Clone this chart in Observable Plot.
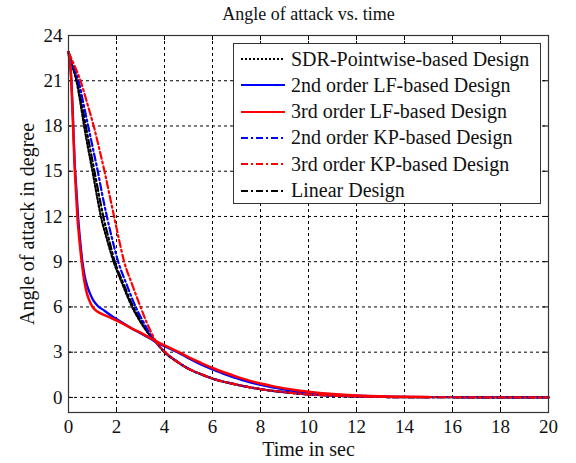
<!DOCTYPE html>
<html>
<head>
<meta charset="utf-8">
<script src="https://cdn.jsdelivr.net/npm/d3@7"></script>
<script src="https://cdn.jsdelivr.net/npm/@observablehq/plot@0.6"></script>
<style>
  html, body { margin: 0; padding: 0; background: #fff; }
  #wrap { position: relative; width: 576px; height: 463px; font-family: "Liberation Serif", "Times New Roman", serif; }
  #wrap svg text { font-family: "Liberation Serif", "Times New Roman", serif; }
  #legend { position: absolute; left: 233px; top: 43px; width: 308px; height: 161px; border: 1px solid #333; background: #fff; box-sizing: border-box; }
  .row { position: absolute; left: 0; height: 26px; display: flex; align-items: center; font-size: 20px; color: #111; white-space: nowrap; font-family: "Liberation Serif", "Times New Roman", serif; }
  .row svg { margin-left: 7px; margin-right: 6px; }
</style>
</head>
<body>
<div id="wrap"></div>
<script>
const title = "Angle of attack vs. time";
const xLabel = "Time in sec";
const yLabel = "Angle of attack in degree";
const xTicks = [0, 2, 4, 6, 8, 10, 12, 14, 16, 18, 20];
const yTicks = [0, 3, 6, 9, 12, 15, 18, 21, 24];

const seriesNames = [
  "SDR-Pointwise-based Design",
  "2nd order LF-based Design",
  "3rd order LF-based Design",
  "2nd order KP-based Design",
  "3rd order KP-based Design",
  "Linear Design"
];

const tailT = [4.5, 5, 5.5, 6, 7, 8, 9, 10, 11, 12, 13, 14, 16, 18, 20];
const tailY = [2.4, 1.9, 1.55, 1.25, 0.85, 0.55, 0.35, 0.2, 0.12, 0.06, 0.03, 0.02, 0.01, 0, 0];

const sdrT = [0, 0.15, 0.33, 0.5, 0.65, 0.82, 1.0, 1.17, 1.35, 1.6, 1.88, 2.25, 2.65, 3.0, 3.35, 3.65, 4.0, ...tailT];
const sdrY = [22.9, 22, 21, 19.5, 18, 16.5, 15, 13.5, 12, 10.5, 9, 7.5, 6, 5, 4.2, 3.65, 3.0, ...tailY];

const lf2T = [0, 0.05, 0.1, 0.15, 0.2, 0.26, 0.32, 0.4, 0.48, 0.58, 0.68, 0.8, 0.92, 1.05, 1.2, 1.5, 1.8, 2.2, 2.6, 3.0, 3.4, 3.8, 4.2, 4.6, 5, 5.5, 6, 6.5, 7, 7.5, 8, 8.5, 9, 9.5, 10, 11, 12, 13, 14, 15];
const lf2Y = [22.9, 22.3, 21.5, 20, 18, 15.5, 14, 12, 10.5, 9, 8, 7.3, 6.8, 6.4, 6.1, 5.75, 5.4, 5.0, 4.6, 4.25, 3.9, 3.55, 3.25, 2.95, 2.6, 2.2, 1.85, 1.55, 1.27, 1.03, 0.83, 0.66, 0.52, 0.41, 0.32, 0.19, 0.11, 0.06, 0.03, 0.02];

const lf3T = [0, 0.05, 0.1, 0.14, 0.19, 0.25, 0.3, 0.37, 0.45, 0.55, 0.65, 0.75, 0.85, 1.0, 1.2, 1.5, 1.8, 2.2, 2.6, 3.0, 3.4, 3.8, 4.2, 4.6, 5.0, 5.5, 6, 6.5, 7, 7.5, 8, 8.5, 9, 9.5, 10, 11, 12, 13, 14, 15];
const lf3Y = [22.9, 22.3, 21.5, 20, 18, 15.5, 14, 12, 10.5, 9, 7.8, 7, 6.5, 6.0, 5.7, 5.45, 5.25, 4.95, 4.6, 4.3, 3.95, 3.6, 3.3, 3.0, 2.67, 2.3, 1.95, 1.65, 1.38, 1.13, 0.92, 0.75, 0.6, 0.48, 0.38, 0.23, 0.13, 0.07, 0.04, 0.02];

const kp2T = [0, 0.2, 0.42, 0.62, 0.82, 1.02, 1.22, 1.4, 1.6, 1.82, 2.07, 2.42, 2.8, 3.12, 3.4, 3.65, 4.0, ...tailT];
const kp2Y = [22.9, 22, 21, 19.5, 18, 16.5, 15, 13.5, 12, 10.5, 9, 7.5, 6, 5, 4.2, 3.65, 3.05, ...tailY];

const kp3T = [0, 0.25, 0.5, 0.78, 1.05, 1.28, 1.5, 1.7, 1.9, 2.1, 2.32, 2.65, 3.0, 3.25, 3.45, 3.65, 4.0, ...tailT];
const kp3Y = [22.9, 22, 21, 19.5, 18, 16.5, 15, 13.5, 12, 10.5, 9, 7.5, 6, 5, 4.3, 3.7, 3.05, ...tailY];

const linT = [0, 0.18, 0.38, 0.55, 0.72, 0.9, 1.08, 1.26, 1.45, 1.68, 1.93, 2.3, 2.7, 3.05, 3.35, 3.65, 4.0, ...tailT];
const linY = [22.9, 22, 21, 19.5, 18, 16.5, 15, 13.5, 12, 10.5, 9, 7.5, 6, 5, 4.2, 3.65, 3.0, ...tailY];

const styles = [
  {stroke: "#000000", dash: "2,2", width: 2.2},
  {stroke: "#0000ff", dash: null, width: 2.3},
  {stroke: "#ff0000", dash: null, width: 2.5},
  {stroke: "#0000ff", dash: "7,3,2,3", width: 2.2},
  {stroke: "#ff0000", dash: "7,3,2,3", width: 2.2},
  {stroke: "#000000", dash: "7,3,2,3", width: 2.2}
];

const seriesT = [sdrT, lf2T, lf3T, kp2T, kp3T, linT];
const seriesY = [sdrY, lf2Y, lf3Y, kp2Y, kp3Y, linY];
const series = seriesT.map((ts, i) => ts.map((t, j) => ({t, v: seriesY[i][j]})));
const drawOrder = [0, 5, 3, 1, 2, 4];

const W = 576, H = 463;
const mL = 68, mR = 28, mT = 35, mB = 51;
const innerW = W - mL - mR, innerH = H - mT - mB;
const tickLen = 5;
const font = '"Liberation Serif", "Times New Roman", serif';

const lineMarks = drawOrder.map(i => Plot.line(series[i], {
  x: "t", y: "v", stroke: styles[i].stroke, strokeWidth: styles[i].width,
  strokeDasharray: styles[i].dash ?? undefined, curve: "monotone-x"
}));

const chart = Plot.plot({
  width: W, height: H,
  marginLeft: mL, marginRight: mR, marginTop: mT, marginBottom: mB,
  style: {fontFamily: font, background: "#fff", color: "#111"},
  x: {domain: [0, 20], ticks: xTicks},
  y: {domain: [-1, 24], ticks: yTicks},
  marks: [
    Plot.gridX(xTicks, {stroke: "#000", strokeOpacity: 1, strokeWidth: 1, strokeDasharray: "3,3"}),
    Plot.gridY(yTicks, {stroke: "#000", strokeOpacity: 1, strokeWidth: 1, strokeDasharray: "3,3"}),
    Plot.tickX(xTicks, {x: d => d, insetTop: innerH - tickLen, stroke: "#000"}),
    Plot.tickX(xTicks, {x: d => d, insetBottom: innerH - tickLen, stroke: "#000"}),
    Plot.tickY(yTicks, {y: d => d, insetRight: innerW - tickLen, stroke: "#000"}),
    Plot.tickY(yTicks, {y: d => d, insetLeft: innerW - tickLen, stroke: "#000"}),
    ...lineMarks,
    Plot.frame({stroke: "#333", strokeWidth: 1.2}),
    Plot.axisX(xTicks, {tickSize: 0, tickPadding: 7, fontSize: 19, label: null, fontFamily: font}),
    Plot.axisY(yTicks, {tickSize: 0, tickPadding: 6, fontSize: 19, label: null, fontFamily: font}),
    Plot.text([title], {frameAnchor: "top", lineAnchor: "middle", dy: -21, fontSize: 18, fill: "#111", fontFamily: font}),
    Plot.text([xLabel], {frameAnchor: "bottom", lineAnchor: "middle", dy: 37, fontSize: 20, fill: "#111", fontFamily: font}),
    Plot.text([yLabel], {frameAnchor: "left", textAnchor: "middle", lineAnchor: "middle", dx: -41, rotate: -90, fontSize: 20, fill: "#111", fontFamily: font})
  ]
});

const wrap = document.getElementById("wrap");
wrap.appendChild(chart);

const legend = document.createElement("div");
legend.id = "legend";
seriesNames.forEach((name, i) => {
  const row = document.createElement("div");
  row.className = "row";
  row.style.top = (2 + i * 26.3) + "px";
  const s = styles[i];
  row.innerHTML = `<svg width="44" height="10"><line x1="0" y1="5" x2="44" y2="5" stroke="${s.stroke}" stroke-width="2" ${s.dash ? `stroke-dasharray="${s.dash}"` : ""}/></svg><span>${name}</span>`;
  legend.appendChild(row);
});
wrap.appendChild(legend);
</script>
</body>
</html>
